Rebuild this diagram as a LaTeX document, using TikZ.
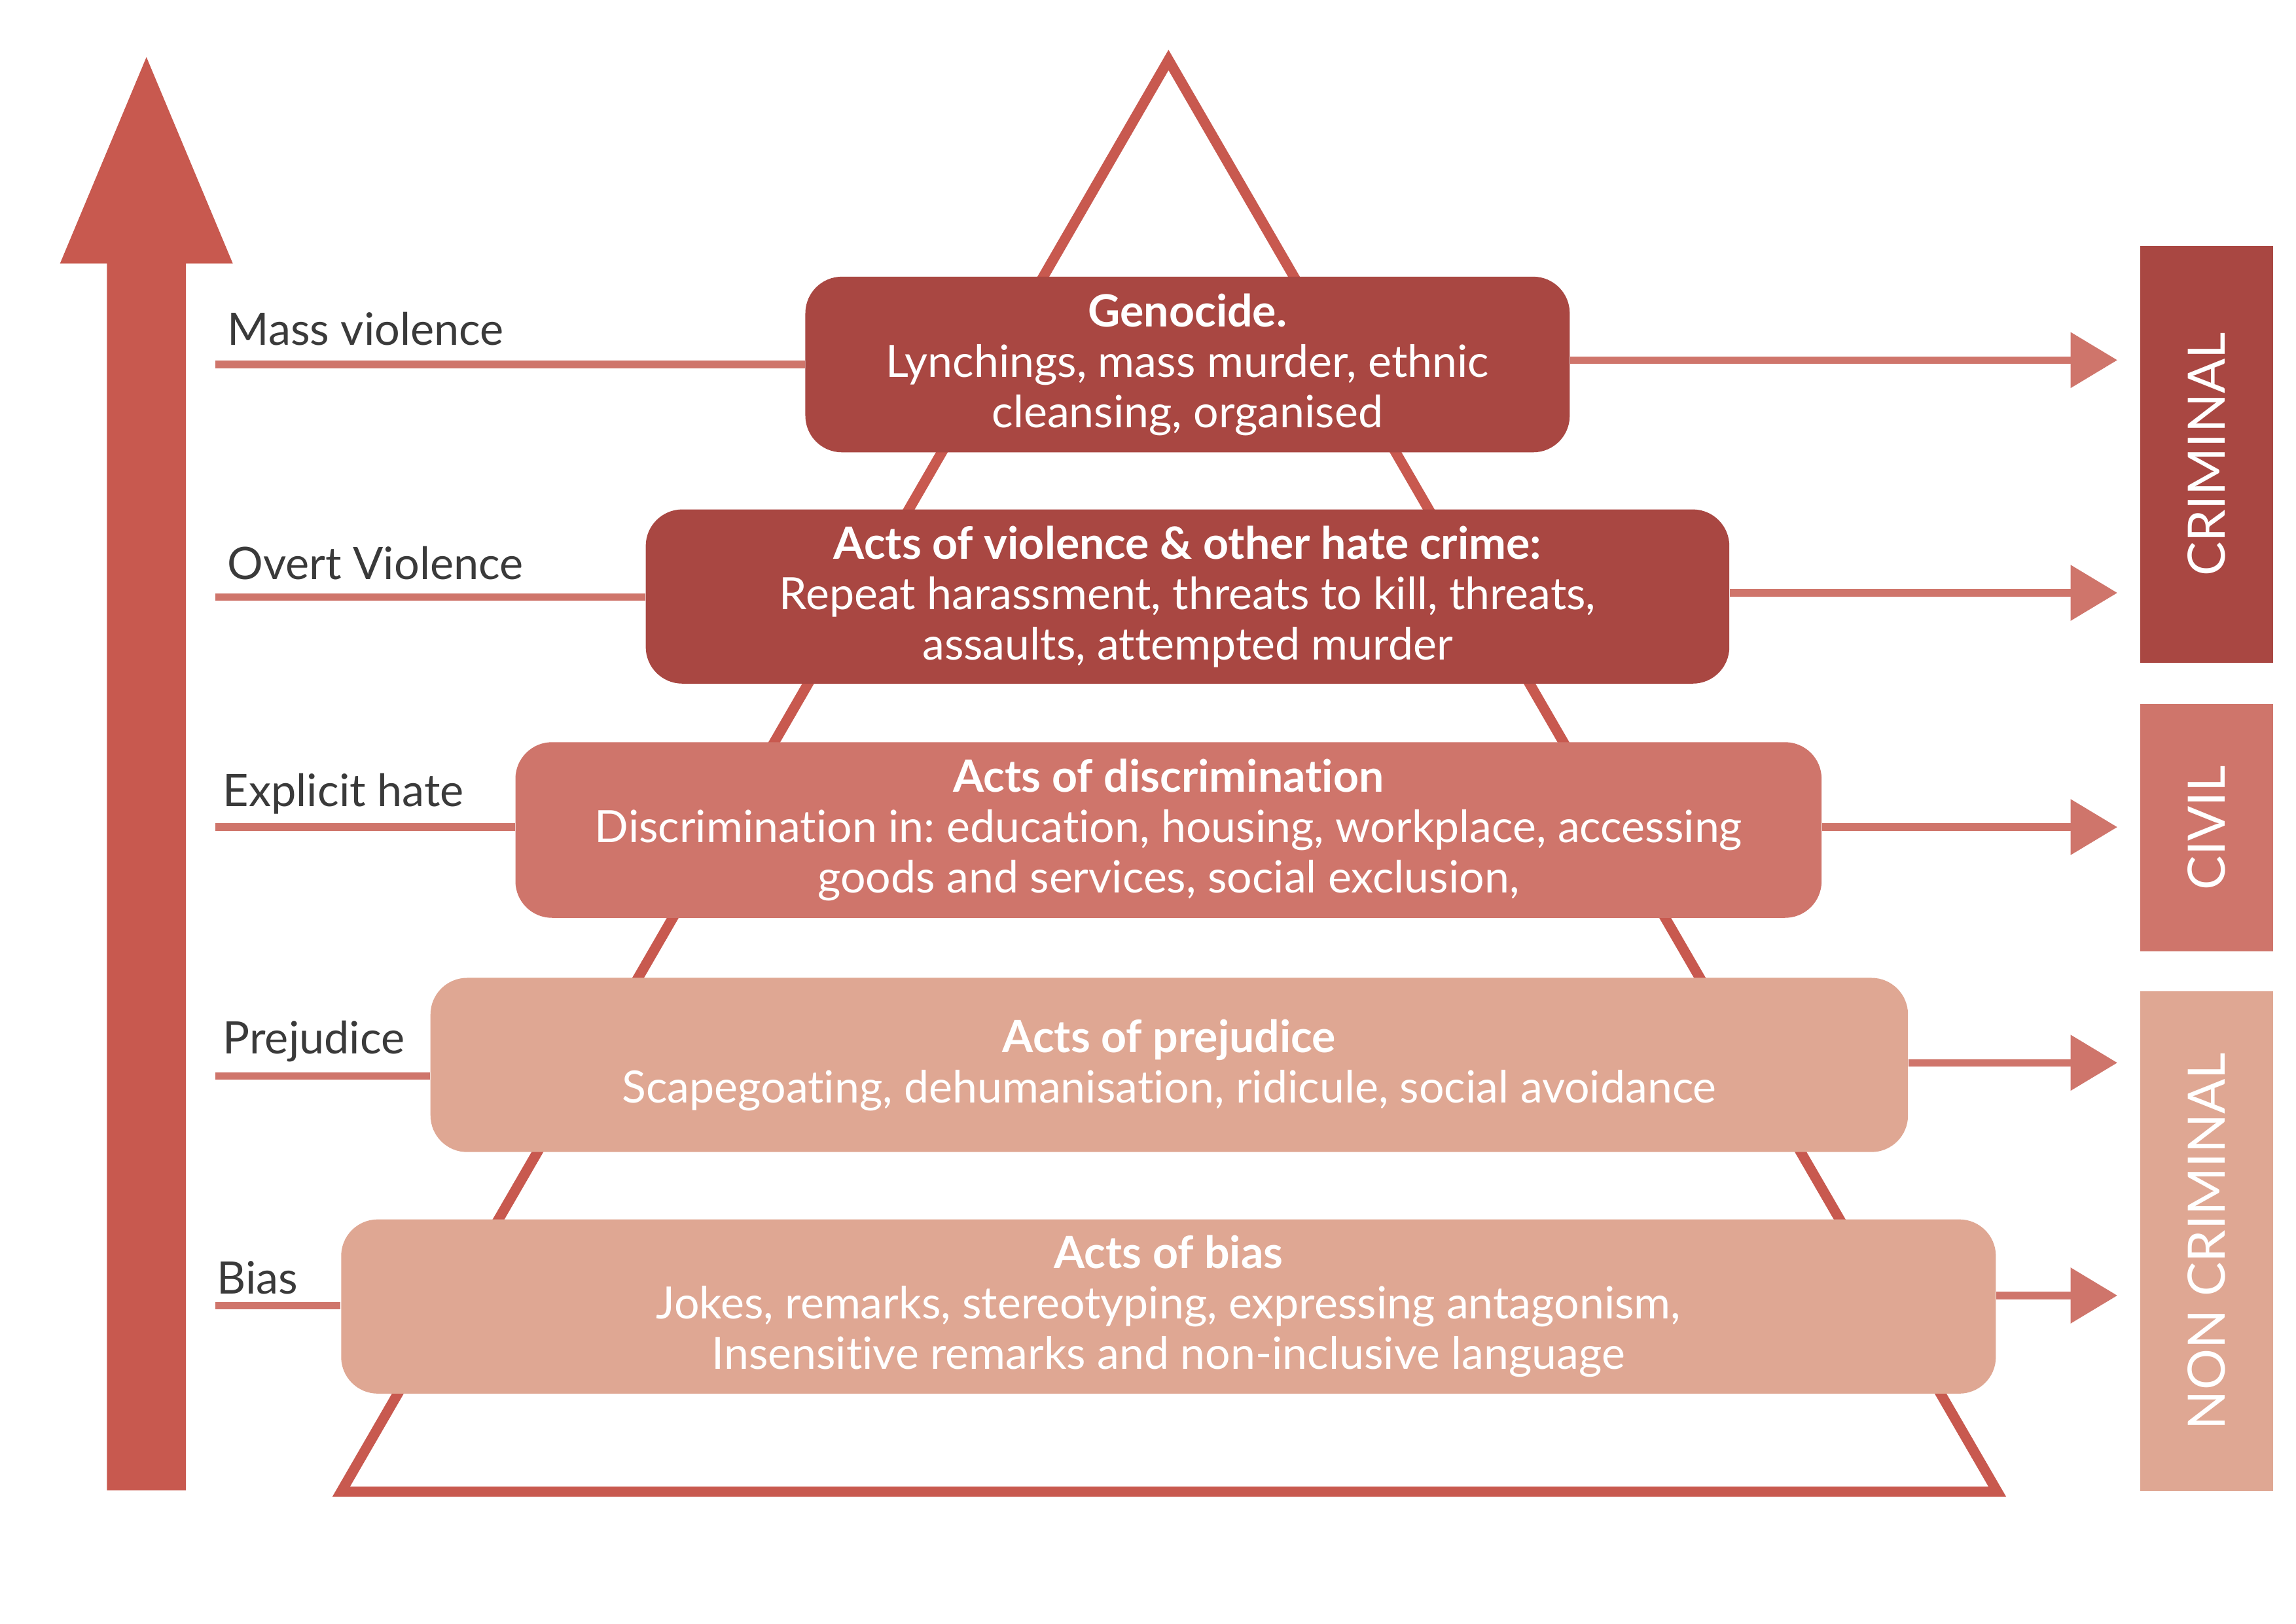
\documentclass[tikz,border=0pt]{standalone}
\usepackage{fontspec}
\setmainfont{Lato}[Ligatures=NoCommon]
\usetikzlibrary{arrows.meta}
\frenchspacing

\definecolor{hatedark}{HTML}{A94742}
\definecolor{hatemid}{HTML}{CF756B}
\definecolor{hatelight}{HTML}{DFA793}
\definecolor{pyrared}{HTML}{C8594F}
\definecolor{labelgray}{HTML}{3A3A3A}

\tikzset{
  level/.style={rectangle, rounded corners=5mm, inner sep=0pt, align=center, text=white,
    font=\fontsize{17.3}{19.6}\selectfont},
  tag/.style={anchor=base west, inner sep=0pt, text=labelgray, font=\fontsize{17.4}{20}\selectfont},
  band/.style={rectangle, inner sep=0pt, rotate=90, minimum height=18.1mm, text=white,
    font=\fontsize{20}{24}\selectfont},
  rung/.style={draw=hatemid, line width=1mm},
  push/.style={draw=hatemid, line width=1mm, -{Triangle[length=6.4mm, width=7.4mm]}}
}

\begin{document}
\begin{tikzpicture}[x=0.2mm, y=-0.2mm]
    \useasboundingbox (0,0) rectangle (1568,1109);

    % scale arrow and pyramid
    \fill[pyrared] (73,1018) -- (73,180) -- (41,180) -- (100,39) -- (159,180) -- (127,180) -- (127,1018) -- cycle;
    \draw[pyrared, line width=1.4mm, line join=miter] (233,1019) -- (798,41) -- (1364,1019) -- cycle;

    % levels
    \node[level, fill=hatedark, minimum width=104.4mm, minimum height=24mm] (genocide) at (811,249)
        {\textbf{Genocide.}\\Lynchings, mass murder, ethnic\\cleansing, organised};
    \node[level, fill=hatedark, minimum width=148mm, minimum height=23.8mm] (violence) at (811,407.5)
        {\textbf{Acts of violence \& other hate crime:}\\Repeat harassment, threats to kill, threats,\\assaults, attempted murder};
    \node[level, fill=hatemid, minimum width=178.4mm, minimum height=24mm] (discrim) at (798,567)
        {\textbf{Acts of discrimination}\\Discrimination in: education, housing, workplace, accessing\\goods and services, social exclusion,};
    \node[level, fill=hatelight, minimum width=201.8mm, minimum height=23.8mm] (prejudice) at (798.5,727.5)
        {\textbf{Acts of prejudice}\\Scapegoating, dehumanisation, ridicule, social avoidance};
    \node[level, fill=hatelight, minimum width=226mm, minimum height=23.8mm] (bias) at (798,892.5)
        {\textbf{Acts of bias}\\Jokes, remarks, stereotyping, expressing antagonism,\\Insensitive remarks and non-inclusive language};

    % left labels
    \node[tag] (lmass) at (155,236) {Mass violence};
    \node[tag] (lovert) at (155,396) {Overt Violence};
    \node[tag] (lexplicit) at (152,551) {Explicit hate};
    \node[tag] (lprejudice) at (152,720) {Prejudice};
    \node[tag] (lbias) at (148,884) {Bias};

    \coordinate (m1) at (147,249);
    \coordinate (m2) at (147,408);
    \coordinate (m3) at (147,565);
    \coordinate (m4) at (147,735);
    \coordinate (m5) at (147,892);
    \draw[rung] (m1) -- (genocide.west |- m1);
    \draw[rung] (m2) -- (violence.west |- m2);
    \draw[rung] (m3) -- (discrim.west |- m3);
    \draw[rung] (m4) -- (prejudice.west |- m4);
    \draw[rung] (m5) -- (bias.west |- m5);

    % right arrows
    \coordinate (r1) at (1446,246);
    \coordinate (r2) at (1446,405);
    \coordinate (r3) at (1446,565);
    \coordinate (r4) at (1446,726);
    \coordinate (r5) at (1446,885);
    \draw[push] (genocide.east |- r1) -- (r1);
    \draw[push] (violence.east |- r2) -- (r2);
    \draw[push] (discrim.east |- r3) -- (r3);
    \draw[push] (prejudice.east |- r4) -- (r4);
    \draw[push] (bias.east |- r5) -- (r5);

    % legal bands
    \node[band, fill=hatedark, minimum width=57mm] (criminal) at (1507,310.5) {CRIMINAL};
    \node[band, fill=hatemid, minimum width=33.8mm] (civil) at (1507,565.5) {CIVIL};
    \node[band, fill=hatelight, minimum width=68.3mm] (noncriminal) at (1507,848) {NON CRIMINAL};
\end{tikzpicture}
\end{document}
